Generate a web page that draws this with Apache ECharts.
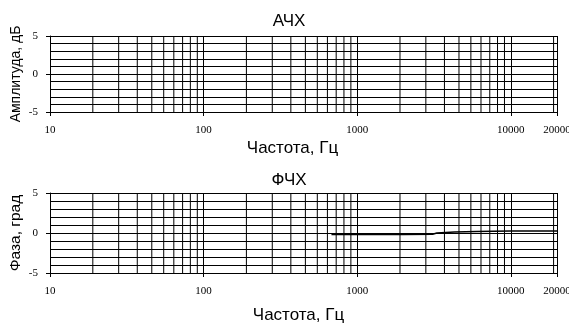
<!DOCTYPE html>
<html>
<head>
<meta charset="utf-8">
<script src="https://cdn.jsdelivr.net/npm/echarts@6/dist/echarts.min.js"></script>
<style>
html,body{margin:0;padding:0;background:#fff;}
#c{width:569px;height:324px;}
</style>
</head>
<body>
<div id="c"></div>
<script>
// ---- data ----
const ampTitle = 'АЧХ';
const phaseTitle = 'ФЧХ';
const xName = 'Частота, Гц';
const ampName = 'Амплитуда, дБ';
const phaseName = 'Фаза, град';
const gridDecades = [10, 100, 1000, 10000];
const freqMin = 10, freqMax = 20000;
const yMin = -5, yMax = 5;
const phaseFreq = [680, 1000, 2000, 3100, 3300, 4300, 6000, 10000, 20000];
const phaseDeg  = [-0.2, -0.2, -0.2, -0.15, 0, 0.12, 0.2, 0.25, 0.25];

// minor vertical grid lines (Excel-style: decade + 0.9*decade*k)
const minorFreqs = [];
gridDecades.forEach(d => {
  for (let k = 1; k <= 9; k++) {
    const f = d * (1 + 0.9 * k);
    if (f < freqMax) minorFreqs.push(f);
  }
});

const sans = "'Liberation Sans Narrow', 'Arial Narrow', 'Liberation Sans', sans-serif";
const serif = "'Liberation Serif', 'DejaVu Serif', serif";

function xAxisCfg(gi, gap, pad) {
  return {
    type: 'log', logBase: 10, min: freqMin, max: freqMax, gridIndex: gi,
    name: xName, nameLocation: 'middle', nameGap: gap,
    nameTextStyle: {color: '#000', fontFamily: sans, fontSize: 17, padding: pad},
    axisLine: {show: true, onZero: false, lineStyle: {color: '#000', width: 1}},
    axisTick: {show: true, length: 4, lineStyle: {color: '#000'}},
    axisLabel: {color: '#000', fontFamily: serif, fontSize: 11, margin: 13,
      showMaxLabel: true, showMinLabel: true,
      formatter: v => String(Math.round(v))},
    splitLine: {show: true, lineStyle: {color: '#000', width: 1}}
  };
}
function yAxisCfg(gi, name, gap, fs) {
  return {
    type: 'value', gridIndex: gi, min: yMin, max: yMax, interval: 5,
    name: name, nameLocation: 'middle', nameGap: gap, nameMoveOverlap: false,
    nameTextStyle: {color: '#000', fontFamily: sans, fontSize: fs},
    axisLine: {show: true, lineStyle: {color: '#000', width: 1}},
    axisTick: {show: true, length: 4, lineStyle: {color: '#000'}},
    axisLabel: {color: '#000', fontFamily: serif, fontSize: 11, margin: 12},
    splitLine: {show: true, lineStyle: {color: '#000', width: 1}},
    minorTick: {show: false, splitNumber: 5},
    minorSplitLine: {show: true, lineStyle: {color: '#000', width: 1}}
  };
}
function vGrid(gi) {
  return {
    type: 'custom', xAxisIndex: gi, yAxisIndex: gi, silent: true, z: 1,
    data: minorFreqs.map(f => [f, 0]),
    encode: {x: 0, y: 1},
    renderItem: (params, api) => {
      const p1 = api.coord([api.value(0), yMax]);
      const p2 = api.coord([api.value(0), yMin]);
      return {type: 'line', shape: {x1: p1[0], y1: p1[1], x2: p2[0], y2: p2[1]},
        style: {stroke: '#000', lineWidth: 1}};
    }
  };
}

const chart = echarts.init(document.getElementById('c'), null, {renderer: 'canvas'});
chart.setOption({
  animation: false,
  backgroundColor: '#fff',
  title: [
    {text: ampTitle, left: 284, top: 8, textAlign: 'center',
      textStyle: {color: '#000', fontFamily: sans, fontSize: 17, fontWeight: 'normal'}},
    {text: phaseTitle, left: 284, top: 167, textAlign: 'center',
      textStyle: {color: '#000', fontFamily: sans, fontSize: 17, fontWeight: 'normal'}}
  ],
  grid: [
    {left: 50, top: 36, width: 507, height: 76, containLabel: false, outerBoundsMode: 'none'},
    {left: 50, top: 193, width: 507, height: 80, containLabel: false, outerBoundsMode: 'none'}
  ],
  xAxis: [xAxisCfg(0, 28, [0, 22, 0, 0]), xAxisCfg(1, 34, [0, 10, 0, 0])],
  yAxis: [yAxisCfg(0, ampName, 27, 14), yAxisCfg(1, phaseName, 26, 15.5)],
  series: [
    vGrid(0),
    vGrid(1),
    {
      type: 'line', xAxisIndex: 1, yAxisIndex: 1, z: 5,
      data: phaseFreq.map((f, i) => [f, phaseDeg[i]]),
      showSymbol: false, symbol: 'none',
      lineStyle: {color: '#000', width: 1.5}
    }
  ]
});
</script>
</body>
</html>
